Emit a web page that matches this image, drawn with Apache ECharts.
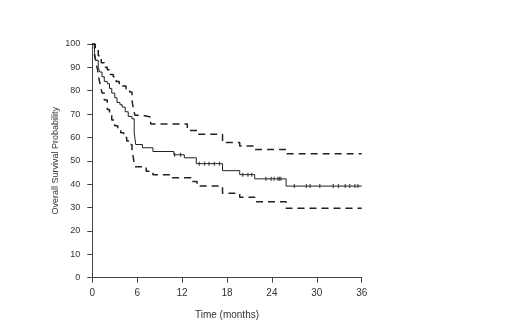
<!DOCTYPE html>
<html><head><meta charset="utf-8">
<script src="https://cdn.jsdelivr.net/npm/echarts@6/dist/echarts.min.js"></script>
<style>html,body{margin:0;padding:0;background:#fff}#c{width:520px;height:323px}</style>
</head><body><div id="c"></div>
<script>
// Kaplan-Meier estimate (time in months, survival %)
const solidT = [0,0.3,0.5,0.8,1.0,1.3,1.6,2.0,2.3,2.6,3.0,3.3,3.7,4.0,4.4,4.8,5.3,5.6,5.8,6.7,8.1,10.9,12.3,13.9,17.4,19.7,21.7,25.9,36];
const solidS = [100,96,93,90,88,86,84,83,81,79,77,75,74,73,71,69,68,62,57,55.6,54,52.6,51.3,48.8,45.8,44.1,42.3,39.2,39.2];
// Upper confidence limit
const upperT = [0,0.4,0.8,1.2,1.6,2.0,2.4,2.8,3.2,3.6,4.0,4.5,5.0,5.3,5.5,5.7,6.7,7.8,12.7,14.1,17.4,19.7,21.7,25.9,36];
const upperS = [100,98,95,92,90,89,87,86,84,83,82,80.5,79.5,76,72,69.5,68.8,65.8,63,61.4,57.8,56.4,54.9,53,53];
// Lower confidence limit
const lowerT = [0,0.3,0.5,0.7,0.9,1.1,1.3,1.6,2.0,2.3,2.6,3.0,3.4,3.8,4.2,4.6,5.0,5.3,5.5,5.7,7.2,8.1,10.7,13.2,14.0,17.4,19.7,21.7,25.9,36];
const lowerS = [100,95,92,89,85,82,79,76,72,70,67.5,65,63,62,60,58.5,57,55,51,47.5,45.5,44,42.8,41.2,39.2,36.1,34.4,32.5,29.7,29.7];
// Censoring times on the KM curve
const censorT = [11.0,11.8,14.3,15.0,15.6,16.3,17.0,20.1,20.8,21.3,23.2,23.9,24.3,24.8,25.0,25.2,27.0,28.6,29.1,30.4,32.2,32.9,33.8,34.4,35.1,35.5];
const xTicks = [0,6,12,18,24,30,36];
const yTicks = [0,10,20,30,40,50,60,70,80,90,100];

function pairs(t,s){return t.map((v,i)=>[v,s[i]]);}
function kmAt(t){let v=solidS[0];for(let i=0;i<solidT.length;i++){if(solidT[i]<=t)v=solidS[i];}return v;}

const col = '#222';
const font = 'Liberation Sans, Arial, sans-serif';
const chart = echarts.init(document.getElementById('c'), null, {renderer:'canvas'});
chart.setOption({
  animation:false,
  backgroundColor:'#fff',
  grid:{left:92.3,right:158.3,top:44,bottom:45.3,containLabel:false,outerBoundsMode:'none'},
  xAxis:[{
    type:'value',min:xTicks[0],max:xTicks[xTicks.length-1],interval:6,
    name:'Time (months)',nameLocation:'middle',nameGap:33,nameMoveOverlap:false,
    nameTextStyle:{fontFamily:font,fontSize:10,color:'#333'},
    axisLine:{lineStyle:{color:'#444',width:1}},
    axisTick:{length:5,lineStyle:{color:'#444'}},
    axisLabel:{fontFamily:font,fontSize:10,color:'#333',margin:11},
    splitLine:{show:false}
  },{
    type:'value',position:'top',min:0,max:36,
    axisLine:{show:true,lineStyle:{color:'#444',width:1}},
    axisTick:{show:false},axisLabel:{show:false},splitLine:{show:false}
  }],
  yAxis:[{
    type:'value',min:yTicks[0],max:yTicks[yTicks.length-1],interval:10,
    name:'Overall Survival Probability',nameLocation:'middle',nameGap:32,nameMoveOverlap:false,
    nameTextStyle:{fontFamily:font,fontSize:9,color:'#333'},
    axisLine:{show:true,lineStyle:{color:'#444',width:1}},
    axisTick:{show:true,length:5,lineStyle:{color:'#444'}},
    axisLabel:{fontFamily:font,fontSize:9,color:'#333',margin:12},
    splitLine:{show:false}
  },{
    type:'value',position:'right',min:0,max:100,
    axisLine:{show:true,lineStyle:{color:'#444',width:1}},
    axisTick:{show:false},axisLabel:{show:false},splitLine:{show:false}
  }],
  series:[
    {type:'line',step:'end',data:pairs(upperT,upperS),showSymbol:false,
     lineStyle:{color:col,width:1.5,type:[7,5]}},
    {type:'line',step:'end',data:pairs(lowerT,lowerS),showSymbol:false,
     lineStyle:{color:col,width:1.5,type:[7,5]}},
    {type:'line',step:'end',data:pairs(solidT,solidS),showSymbol:false,
     lineStyle:{color:col,width:1}},
    {type:'scatter',data:censorT.map(t=>[t,kmAt(t)]),symbol:'rect',symbolSize:[1.2,4],
     itemStyle:{color:col}}
  ]
});
</script></body></html>
